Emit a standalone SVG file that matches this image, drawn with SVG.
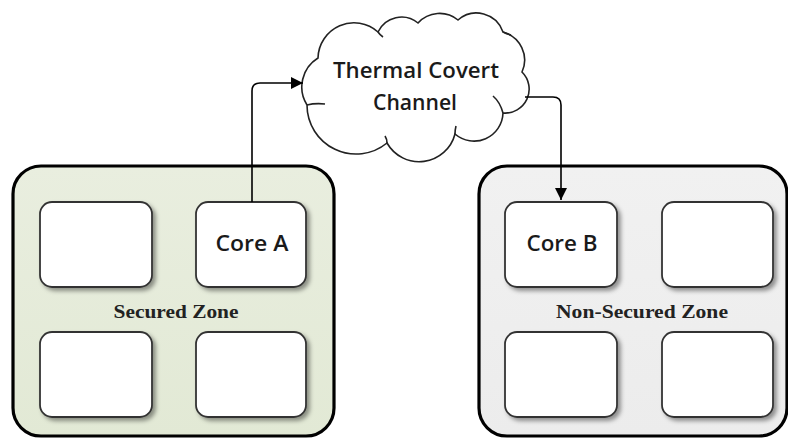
<svg xmlns="http://www.w3.org/2000/svg" width="788" height="439" viewBox="0 0 788 439">
<defs>
<filter id="sh" x="-10%" y="-10%" width="130%" height="130%">
<feDropShadow dx="3" dy="3" stdDeviation="2" flood-color="#000" flood-opacity="0.4"/>
</filter>
<linearGradient id="gL" x1="0" y1="0" x2="0" y2="1">
<stop offset="0" stop-color="#e9eedf"/><stop offset="1" stop-color="#e2e9d5"/>
</linearGradient>
<linearGradient id="gR" x1="0" y1="0" x2="0" y2="1">
<stop offset="0" stop-color="#f1f1f1"/><stop offset="1" stop-color="#ececec"/>
</linearGradient>
<marker id="arr" viewBox="0 0 10 10" refX="10" refY="5" markerWidth="12" markerHeight="12" markerUnits="userSpaceOnUse" orient="auto">
<path d="M0,0 L10,5 L0,10 Z" fill="#000"/>
</marker>
<style>
.zone{stroke:#000;stroke-width:3.2}
.core{fill:#fff;stroke:#333;stroke-width:1.8;filter:url(#sh)}
.ct{font-family:"Open Sans","Noto Sans","Liberation Sans",sans-serif;font-weight:600;font-size:22px;fill:#1a1a1a;text-anchor:middle}
.zt{font-family:"Liberation Serif","DejaVu Serif",serif;font-weight:bold;font-size:19px;fill:#222;text-anchor:middle}
.conn{fill:none;stroke:#000;stroke-width:1.6}
.curl{fill:none;stroke:#222;stroke-width:1.6}
</style>
</defs>

<g id="secured-zone">
<rect class="zone" x="13" y="166" width="321" height="270" rx="28" fill="url(#gL)"/>
<text class="zt" x="176" y="318" textLength="125" lengthAdjust="spacingAndGlyphs">Secured Zone</text>
</g>
<g id="non-secured-zone">
<rect class="zone" x="479" y="166" width="308" height="270" rx="28" fill="url(#gR)"/>
<text class="zt" x="642" y="318" textLength="172" lengthAdjust="spacingAndGlyphs" font-weight="normal">Non-Secured Zone</text>
</g>

<g id="core-s1"><rect class="core" x="40" y="202" width="112" height="85" rx="12"/></g>
<g id="core-a"><rect class="core" x="196" y="202" width="110" height="85" rx="12"/>
<text class="ct" x="252" y="251" textLength="73" lengthAdjust="spacingAndGlyphs">Core A</text></g>
<g id="core-s3"><rect class="core" x="40" y="332" width="112" height="85" rx="12"/></g>
<g id="core-s4"><rect class="core" x="196" y="332" width="110" height="85" rx="12"/></g>

<g id="core-b"><rect class="core" x="505" y="202" width="112" height="85" rx="12"/>
<text class="ct" x="562" y="251" textLength="71" lengthAdjust="spacingAndGlyphs">Core B</text></g>
<g id="core-n2"><rect class="core" x="662" y="202" width="111" height="85" rx="12"/></g>
<g id="core-n3"><rect class="core" x="505" y="332" width="112" height="85" rx="12"/></g>
<g id="core-n4"><rect class="core" x="662" y="332" width="111" height="85" rx="12"/></g>

<g id="cloud">
<path d="M307,105 A34,34 0 0 1 318,58 A36,36 0 0 1 378,32 A26,26 0 0 1 418,23 A29,29 0 0 1 458,20 A28,28 0 0 1 503,32 A29,29 0 0 1 522,72 A24,24 0 0 1 503,113 A29,29 0 0 1 455,134 A37,37 0 0 1 387,143 A49,49 0 0 1 307,105 Z" fill="#fff" stroke="#222" stroke-width="1.6"/>
<path class="curl" d="M307,105 Q315,103 325,104"/>
<path class="curl" d="M503,113 Q500,102 493,96"/>
<path class="curl" d="M387,143 Q387,139 385,136"/>
<path class="curl" d="M455,134 Q455,130 456,126"/>
<path class="curl" d="M378,32 Q380,35 383,37"/>
<path class="curl" d="M503,32 Q507,34 511,35"/>
<text class="ct" x="416" y="78" textLength="166" lengthAdjust="spacingAndGlyphs">Thermal Covert</text>
<text class="ct" x="415" y="110" textLength="84" lengthAdjust="spacingAndGlyphs">Channel</text>
</g>

<g id="connectors">
<path class="conn" d="M252,202 L252,91 Q252,83 260,83 L303,83" marker-end="url(#arr)"/>
<path class="conn" d="M525,97 L553,97 Q561,97 561,105 L561,200" marker-end="url(#arr)"/>
</g>
</svg>
